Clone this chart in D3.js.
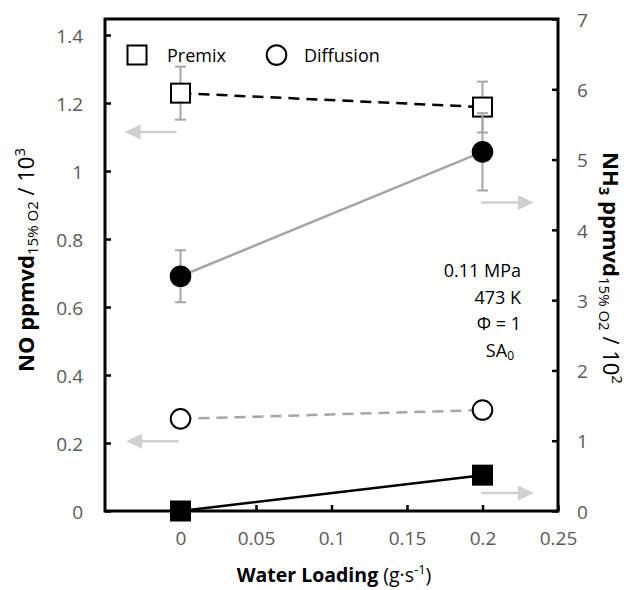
<!DOCTYPE html>
<html>
<head>
<meta charset="utf-8">
<script src="https://d3js.org/d3.v7.min.js"></script>
<style>
  body { margin: 0; background: #fff; }
  text { font-family: "Open Sans", sans-serif; }
</style>
</head>
<body>
<div id="chart"></div>
<script>
var width = 635;
var height = 590;

// water loading (g/s)
const loading = [0, 0.2];

// NO (ppmvd / 1e3) on left axis
const noPremix = [1.229, 1.188];
const noPremixErr = [0.078, 0.075];
const noDiffusion = [0.271, 0.297];

// NH3 (ppmvd / 1e2) on right axis
const nh3Premix = [0.0, 0.51];
const nh3Diffusion = [3.34, 5.11];
const nh3DiffusionErr = [0.37, 0.55];

const xTicks = [0, 0.05, 0.1, 0.15, 0.2, 0.25];
const leftTicks = [0, 0.2, 0.4, 0.6, 0.8, 1, 1.2, 1.4];
const rightTicks = [0, 1, 2, 3, 4, 5, 6, 7];

const conditions = ["0.11 MPa", "473 K", "\u03A6 = 1", "SA"];

// arrows saying which axis a series belongs to
const arrows = [
  { axis: "left", y: 1.115, from: -0.0025, to: -0.037 },
  { axis: "left", y: 0.205, from: -0.0012, to: -0.036 },
  { axis: "right", y: 4.39, from: 0.199, to: 0.234 },
  { axis: "right", y: 0.255, from: 0.199, to: 0.234 }
];

var pLeft = 105, pRight = 558, pTop = 19, pBottom = 511;

var svg = d3.select("#chart").append("svg")
  .attr("width", width)
  .attr("height", height);

var x = d3.scaleLinear().domain([-0.05, 0.25]).range([pLeft, pRight]);
var yL = d3.scaleLinear().domain([0, 1.4 * (pBottom - pTop) / (pBottom - 35)]).range([pBottom, pTop]);
var yR = d3.scaleLinear().domain([0, 7]).range([pBottom, pTop]);

var gray = "#a6a6a6";
var tickColor = "#595959";

// axes
var xAxis = svg.append("g").attr("transform", "translate(0," + pBottom + ")")
  .call(d3.axisBottom(x).tickValues(xTicks).tickSize(-6).tickPadding(17).tickFormat(d3.format("")));
var lAxis = svg.append("g").attr("transform", "translate(" + pLeft + ",0)")
  .call(d3.axisLeft(yL).tickValues(leftTicks).tickSize(-6).tickPadding(22).tickFormat(d3.format("")));
var rAxis = svg.append("g").attr("transform", "translate(" + pRight + ",0)")
  .call(d3.axisRight(yR).tickValues(rightTicks).tickSize(-6).tickPadding(19).tickFormat(d3.format("")));

[xAxis, lAxis, rAxis].forEach(function (g) {
  g.select(".domain").remove();
  g.selectAll(".tick line").attr("stroke", "#000").attr("stroke-width", 2.5);
  g.selectAll(".tick text").attr("fill", tickColor).style("font-size", "19px")
    .style("font-family", "'Open Sans', sans-serif");
});
xAxis.selectAll(".tick text").attr("dy", "0.9em");
lAxis.selectAll(".tick text").attr("dy", "0.38em");
rAxis.selectAll(".tick text").attr("dy", "0.38em");

// plot frame
svg.append("rect")
  .attr("x", pLeft).attr("y", pTop)
  .attr("width", pRight - pLeft).attr("height", pBottom - pTop)
  .attr("fill", "none").attr("stroke", "#000").attr("stroke-width", 3);

// arrows
arrows.forEach(function (a) {
  var ys = a.axis === "left" ? yL(a.y) : yR(a.y);
  var x0 = x(a.from), x1 = x(a.to);
  var dir = x1 < x0 ? -1 : 1;
  svg.append("line")
    .attr("x1", x0).attr("x2", x1 - dir * 14)
    .attr("y1", ys).attr("y2", ys)
    .attr("stroke", "#d0d0d0").attr("stroke-width", 2.5);
  svg.append("path")
    .attr("d", "M" + x1 + "," + ys + "L" + (x1 - dir * 16) + "," + (ys - 7.5) + "L" + (x1 - dir * 16) + "," + (ys + 7.5) + "Z")
    .attr("fill", "#d0d0d0");
});

function series(vals, y, opts) {
  var pts = loading.map(function (d, i) { return [x(d), y(vals[i])]; });
  svg.append("path")
    .attr("d", d3.line()(pts))
    .attr("fill", "none")
    .attr("stroke", opts.line)
    .attr("stroke-width", 2.5)
    .attr("stroke-dasharray", opts.dash ? "11,7" : null);
  if (opts.err) {
    loading.forEach(function (d, i) {
      var cx = x(d), y1 = y(vals[i] + opts.err[i]), y2 = y(vals[i] - opts.err[i]);
      var g = svg.append("g").attr("stroke", gray).attr("stroke-width", 2);
      g.append("line").attr("x1", cx).attr("x2", cx).attr("y1", y1).attr("y2", y2);
      g.append("line").attr("x1", cx - 5.5).attr("x2", cx + 5.5).attr("y1", y1).attr("y2", y1);
      g.append("line").attr("x1", cx - 5.5).attr("x2", cx + 5.5).attr("y1", y2).attr("y2", y2);
    });
  }
  pts.forEach(function (p) {
    if (opts.shape === "square") {
      svg.append("rect")
        .attr("x", p[0] - 9.5).attr("y", p[1] - 9.5)
        .attr("width", 19).attr("height", 19)
        .attr("fill", opts.fill).attr("stroke", "#000").attr("stroke-width", 2);
    } else {
      svg.append("circle")
        .attr("cx", p[0]).attr("cy", p[1]).attr("r", 9.8)
        .attr("fill", opts.fill).attr("stroke", "#000").attr("stroke-width", 2);
    }
  });
}

series(noPremix, yL, { line: "#000", dash: true, err: noPremixErr, shape: "square", fill: "#fff" });
series(noDiffusion, yL, { line: gray, dash: true, shape: "circle", fill: "#fff" });
series(nh3Premix, yR, { line: "#000", dash: false, shape: "square", fill: "#000" });
series(nh3Diffusion, yR, { line: gray, dash: false, err: nh3DiffusionErr, shape: "circle", fill: "#000" });

// legend
svg.append("rect").attr("x", 127.5).attr("y", 45.5).attr("width", 19).attr("height", 19)
  .attr("fill", "#fff").attr("stroke", "#000").attr("stroke-width", 2);
svg.append("text").attr("x", 167).attr("y", 62).style("font-size", "18px").text("Premix");
svg.append("circle").attr("cx", 276.5).attr("cy", 55).attr("r", 9.8)
  .attr("fill", "#fff").attr("stroke", "#000").attr("stroke-width", 2);
svg.append("text").attr("x", 304).attr("y", 62).style("font-size", "18px").text("Diffusion");

// conditions
var cond = svg.append("g").attr("text-anchor", "end").style("font-size", "18px");
conditions.forEach(function (c, i) {
  var t = cond.append("text").attr("x", i === 3 ? 514 : 521).attr("y", 277 + i * 26.7).text(c);
  if (i === 3) t.append("tspan").attr("dy", 3).style("font-size", "12px").text("0");
});

// x title
var xt = svg.append("text").attr("x", 334).attr("y", 582).attr("text-anchor", "middle").style("font-size", "19.5px");
xt.append("tspan").style("font-weight", "bold").text("Water Loading");
xt.append("tspan").text(" (g\u00B7s");
xt.append("tspan").attr("dy", -8).style("font-size", "13px").text("-1");
xt.append("tspan").attr("dy", 8).text(")");

// left title
var lt = svg.append("text").attr("transform", "translate(34,260) rotate(-90)")
  .attr("text-anchor", "middle").style("font-size", "22px");
lt.append("tspan").style("font-weight", "bold").text("NO ppmvd");
lt.append("tspan").attr("dy", 4).style("font-size", "15px").text("15% O2");
lt.append("tspan").attr("dy", -4).text(" / 10");
lt.append("tspan").attr("dy", -9).style("font-size", "15px").text("3");

// right title
var rt = svg.append("text").attr("transform", "translate(603,268) rotate(90)")
  .attr("text-anchor", "middle").style("font-size", "22px");
rt.append("tspan").style("font-weight", "bold").text("NH");
rt.append("tspan").attr("dy", 4).style("font-weight", "bold").style("font-size", "15px").text("3");
rt.append("tspan").attr("dy", -4).style("font-weight", "bold").text(" ppmvd");
rt.append("tspan").attr("dy", 4).style("font-size", "15px").text("15% O2");
rt.append("tspan").attr("dy", -4).text(" / 10");
rt.append("tspan").attr("dy", -9).style("font-size", "15px").text("2");
</script>
</body>
</html>
